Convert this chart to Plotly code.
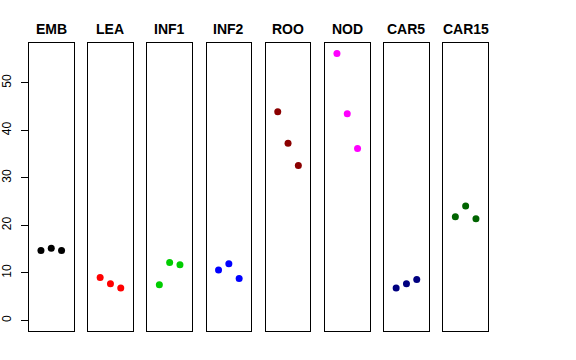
import plotly.graph_objects as go

categories = ["EMB", "LEA", "INF1", "INF2", "ROO", "NOD", "CAR5", "CAR15"]
values = [
    [14.7, 15.2, 14.7],
    [9.0, 7.7, 6.8],
    [7.5, 12.2, 11.7],
    [10.6, 11.9, 8.8],
    [43.9, 37.3, 32.6],
    [56.2, 43.5, 36.2],
    [6.8, 7.7, 8.6],
    [21.8, 24.1, 21.4],
]
colors = ["#000000", "#FF0000", "#00CD00", "#0000FF", "#8B0000", "#FF00FF", "#000080", "#006400"]
y_ticks = [0, 10, 20, 30, 40, 50]

W, H = 576, 360
left0, pw, step = 29, 44.5, 59.2
top, bottom = 43, 331
title_y = 29

fig = go.Figure()
layout = dict(width=W, height=H, margin=dict(l=0, r=0, t=0, b=0, autoexpand=False),
              paper_bgcolor="white", plot_bgcolor="white", showlegend=False,
              font=dict(family="Liberation Sans, Arial, Helvetica, sans-serif", size=12, color="black"))
annotations = []
for i, (cat, vals, col) in enumerate(zip(categories, values, colors)):
    n = i + 1
    xa = "x" if n == 1 else f"x{n}"
    ya = "y" if n == 1 else f"y{n}"
    x0 = left0 + i * step
    x1 = x0 + pw
    fig.add_trace(go.Scatter(x=[1, 2, 3], y=vals, mode="markers", xaxis=xa, yaxis=ya,
                             marker=dict(color=col, size=7, line=dict(width=0))))
    layout["xaxis" if n == 1 else f"xaxis{n}"] = dict(
        domain=[x0 / W, x1 / W], range=[-0.16, 4.16], showgrid=False, zeroline=False,
        showticklabels=False, ticks="", showline=True, mirror=True, linecolor="black",
        linewidth=1, anchor=ya, fixedrange=True, automargin=False)
    yax = dict(domain=[(H - bottom) / H, (H - top) / H], range=[-2.25, 58.4],
               showgrid=False, zeroline=False, showline=True, mirror=True,
               linecolor="black", linewidth=1, anchor=xa, fixedrange=True, automargin=False)
    if n == 1:
        yax.update(tickvals=y_ticks, ticktext=[str(t) for t in y_ticks], ticks="outside",
                   ticklen=7, tickcolor="black", tickangle=-90, tickfont=dict(size=12),
                   ticklabelstandoff=5)
    else:
        yax.update(showticklabels=False, ticks="")
    layout["yaxis" if n == 1 else f"yaxis{n}"] = yax
    annotations.append(dict(text=f"<b>{cat}</b>", x=(x0 + x1) / 2 / W, y=(H - title_y) / H,
                            xref="paper", yref="paper", showarrow=False,
                            xanchor="center", yanchor="middle", font=dict(size=14)))
layout["annotations"] = annotations
fig.update_layout(**layout)
fig.write_html("out.html", config={"displayModeBar": False, "staticPlot": True},
               post_script="document.body.style.margin='0';document.body.style.overflow='hidden';")
